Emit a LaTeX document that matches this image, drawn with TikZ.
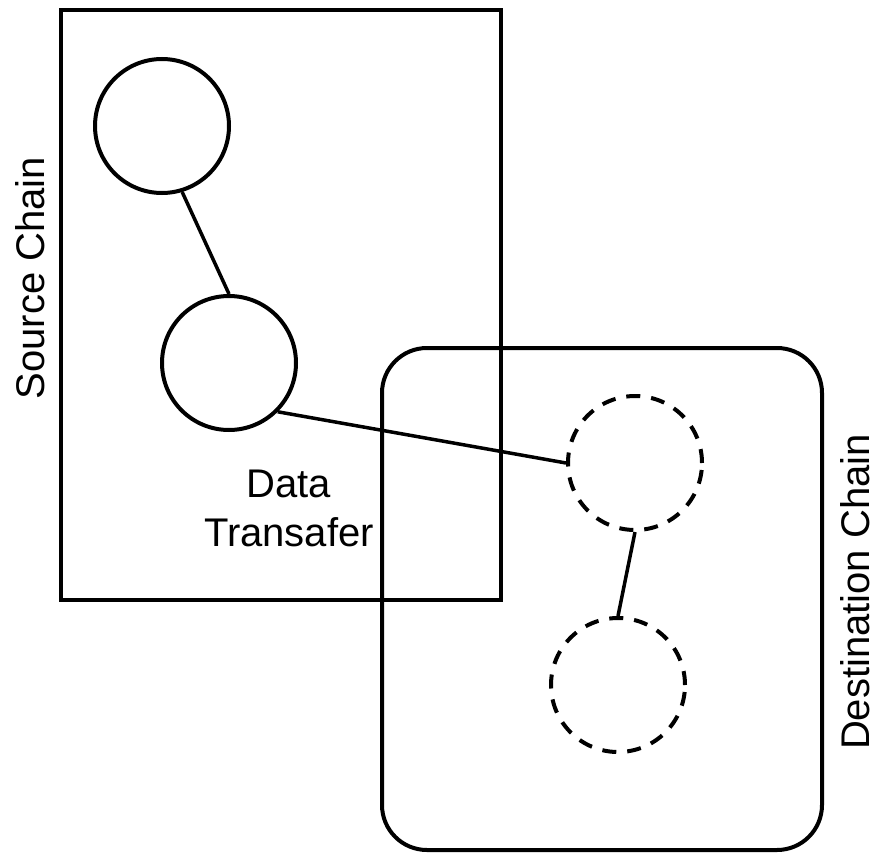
\documentclass[tikz,border=0pt]{standalone}
\usepackage{fontspec}
\setmainfont{Liberation Sans}
\begin{document}
\begin{tikzpicture}[x=1pt,y=-1pt,
  box/.style={draw,line width=4pt,rectangle,inner sep=0pt},
  solidcirc/.style={draw,line width=4pt,circle,minimum size=134pt,inner sep=0pt},
  dashcirc/.style={draw,line width=4pt,circle,minimum size=134pt,inner sep=0pt,dash pattern=on 14pt off 11pt},
  conn/.style={line width=3.5pt},
  lbl/.style={font=\fontsize{40}{49}\selectfont,inner sep=0pt,align=center}]
\useasboundingbox (0,0) rectangle (877,856);
\node[box,minimum width=440pt,minimum height=590pt] (src) at (280.5,305) {};
\node[box,rounded corners=45pt,minimum width=440pt,minimum height=502pt] (dst) at (602,599) {};
\node[solidcirc] (a) at (162,126) {};
\node[solidcirc] (b) at (229,363) {};
\node[dashcirc] (c) at (635,463) {};
\node[dashcirc] (d) at (618,685) {};
\draw[conn] (a.-73) -- (b.north);
\draw[conn] (b.-45) -- (c.west);
\draw[conn] (c.south) -- (d.north);
\node[lbl] (dt) at (289,508) {Data\\Transafer};
\node[lbl,rotate=90] (sc) at (30,278) {Source Chain};
\node[lbl,rotate=90] (dc) at (855,592) {Destination Chain};
\end{tikzpicture}
\end{document}
